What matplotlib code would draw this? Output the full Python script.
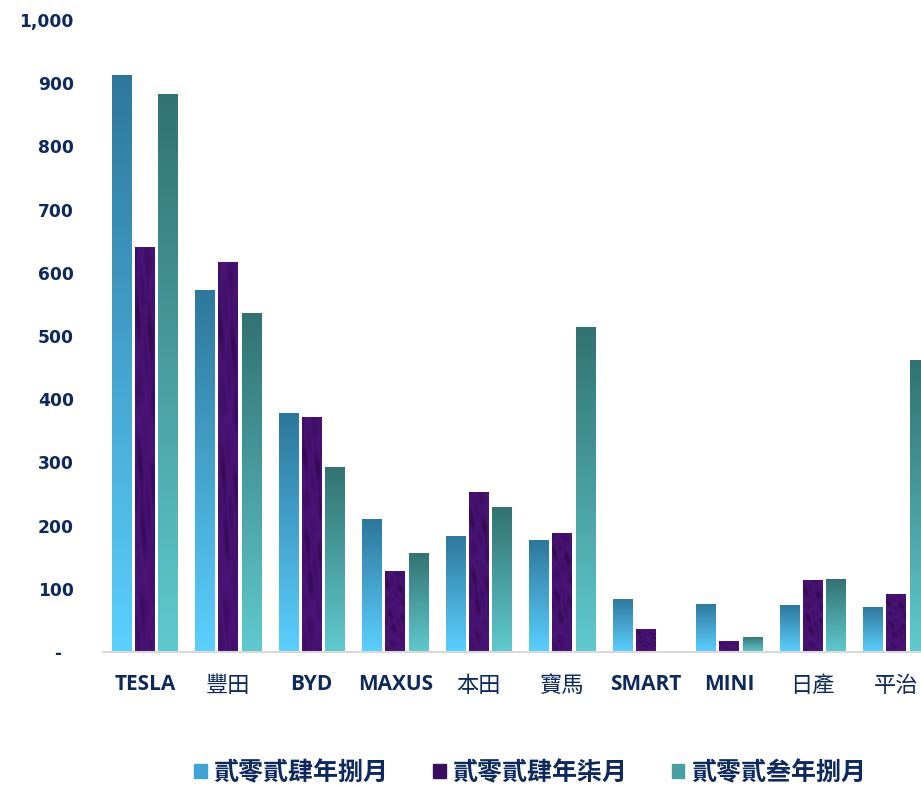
import numpy as np
import matplotlib
matplotlib.use('Agg')
import matplotlib.pyplot as plt
from matplotlib.colors import LinearSegmentedColormap
from matplotlib.patches import Patch

plt.rcParams['font.family'] = ['DejaVu Sans', 'Noto Sans CJK TC']

# datos
categorias = ['TESLA', '豐田', 'BYD', 'MAXUS', '本田', '寶馬', 'SMART', 'MINI', '日產', '平治']
ago_2024 = [913, 573, 378, 210, 184, 177, 84, 76, 74, 71]
jul_2024 = [641, 617, 372, 128, 253, 188, 36, 17, 114, 92]
ago_2023 = [883, 536, 293, 157, 229, 514, 0, 24, 115, 462]
series_nombres = ['貳零貳肆年捌月', '貳零貳肆年柒月', '貳零貳叁年捌月']

navy = '#0E2A5C'
azul = LinearSegmentedColormap.from_list('azul', ['#5BD0FF', '#2E779C'])
verde = LinearSegmentedColormap.from_list('verde', ['#5FCACE', '#337272'])
morado = LinearSegmentedColormap.from_list('morado', ['#2C0746', '#4A1478', '#3A0E5E'])

fig = plt.figure(figsize=(9.21, 7.85), dpi=100)
ax = fig.add_axes([103 / 921, 133 / 785, 835 / 921, 632 / 785])

x = np.arange(len(categorias))
ancho = 0.234
paso = 0.281

grad = np.linspace(0, 1, 256).reshape(-1, 1)
# textura del morado (patron fijo, no datos)
yy, xx = np.mgrid[0:120, 0:12]
textura = (0.5 + 0.22 * np.sin(yy * 0.23 + xx * 0.6) * np.cos(yy * 0.07 - xx * 0.4)
           + 0.18 * np.sin(yy * 0.041 + 0.8 * xx))

for i, (vals, cmap) in enumerate([(ago_2024, azul), (jul_2024, morado), (ago_2023, verde)]):
    barras = ax.bar(x + (i - 1) * paso, vals, width=ancho, color='none', edgecolor='none', zorder=2)
    for b in barras:
        h = b.get_height()
        if h <= 0:
            continue
        x0 = b.get_x()
        img = textura if cmap is morado else grad
        im = ax.imshow(img, cmap=cmap, origin='lower', aspect='auto',
                       extent=[x0, x0 + b.get_width(), 0, h], zorder=2,
                       vmin=0, vmax=1, interpolation='bilinear')
        im.set_clip_path(b)

ax.set_xlim(-0.5, len(categorias) - 0.5)
ax.set_ylim(0, 1000)
ax.set_yticks(range(0, 1001, 100))
ax.set_yticklabels(['-  '] + [f'{v:,}' for v in range(100, 1001, 100)])
ax.set_xticks(x)
ax.set_xticklabels(categorias)
ax.tick_params(axis='both', length=0, labelsize=12.3, labelcolor=navy)
ax.tick_params(axis='y', pad=21)
ax.tick_params(axis='x', pad=16)
for lbl in ax.get_yticklabels():
    lbl.set_fontweight('bold')
for lbl in ax.get_xticklabels():
    if lbl.get_text().isascii():
        lbl.set_family(['Open Sans', 'DejaVu Sans'])
        lbl.set_fontweight('bold')
        lbl.set_fontsize(15)
    else:
        lbl.set_family(['Noto Sans CJK TC'])
        lbl.set_fontweight('normal')
        lbl.set_fontsize(16)

for s in ['top', 'right', 'left']:
    ax.spines[s].set_visible(False)
ax.spines['bottom'].set_color('#D9D9D9')
ax.spines['bottom'].set_linewidth(1.5)

handles = [Patch(color='#3FA4D4'), Patch(color='#3A0E5E'), Patch(color='#48A0A2')]
fig.legend(handles, series_nombres, loc='center', bbox_to_anchor=(530 / 921, 1 - 773 / 785),
           ncol=3, frameon=False, handlelength=0.5, handleheight=0.5, handletextpad=0.25,
           columnspacing=1.8, prop={'size': 18, 'weight': 'bold'}, labelcolor=navy)

fig.savefig('out.png', dpi=100)
